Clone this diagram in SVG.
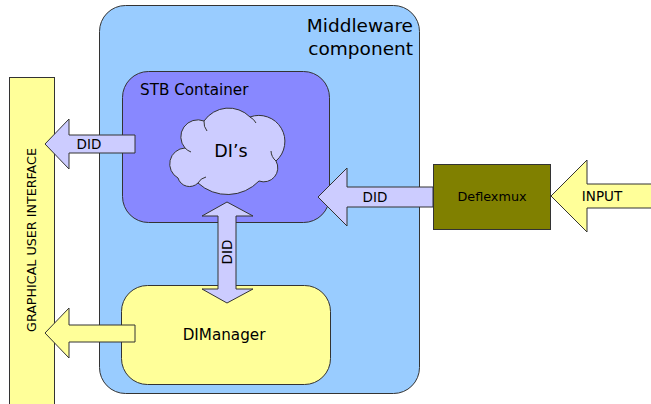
<svg xmlns="http://www.w3.org/2000/svg" width="651" height="404" viewBox="0 0 651 404">
  <style>
    .box { stroke: #333333; stroke-width: 1; }
    .lbl { font-family: "DejaVu Sans", Verdana, sans-serif; fill: #000000; }
    .did { fill: #CCCCFF; stroke: #333333; stroke-width: 1; stroke-linejoin: miter; }
    .yel { fill: #FFFF99; stroke: #333333; stroke-width: 1; }
  </style>
  <rect width="651" height="404" fill="#FFFFFF"/>

  <g id="middleware">
    <rect class="box" x="99.5" y="5.5" width="320" height="388" rx="26" ry="26" fill="#99CCFF"/>
    <text class="lbl" x="413" y="32" font-size="18.5" text-anchor="end">Middleware</text>
    <text class="lbl" x="413" y="55" font-size="18.5" text-anchor="end">component</text>
  </g>

  <g id="gui">
    <rect class="box" x="9.5" y="77.5" width="45" height="340" fill="#FFFF99"/>
    <text class="lbl" font-size="12.7" text-anchor="middle" transform="translate(36,240) rotate(-90)">GRAPHICAL USER INTERFACE</text>
  </g>

  <g id="stb-container">
    <rect class="box" x="122.5" y="71.5" width="207" height="151" rx="26" ry="26" fill="#8888FF"/>
    <text class="lbl" x="140" y="95" font-size="15.2">STB Container</text>
  </g>

  <g id="dimanager">
    <rect class="box" x="121.5" y="285.5" width="209" height="99" rx="26" ry="26" fill="#FFFF99"/>
    <text class="lbl" x="224" y="340" font-size="15.2" text-anchor="middle">DIManager</text>
  </g>

  <g id="dis">
    <path class="did" d="M178,178 A16,16 0 0 1 185,148 A17,17 0 0 1 204,121 A30,30 0 0 1 250,117 A26,26 0 0 1 276,161 A14,14 0 0 1 259,181 A43.5,43.5 0 0 1 198,183 A12,12 0 0 1 178,178 Z"/>
    <path d="M185,148 A16,16 0 0 0 191,152 M204,121 A14,14 0 0 0 207,131 M250,117 A14,14 0 0 1 256,123 M276,161 A14,14 0 0 1 271,151 M198,183 A12,12 0 0 1 206,177" fill="none" stroke="#333333" stroke-width="1"/>
    <text class="lbl" x="231" y="157" font-size="17.5" text-anchor="middle">DI’s</text>
  </g>

  <g id="deflexmux">
    <rect class="box" x="433.5" y="164.5" width="117" height="65" fill="#808000"/>
    <text class="lbl" x="492" y="201" font-size="12.8" text-anchor="middle">Deflexmux</text>
  </g>

  <g id="connectors">
    <g id="did-to-gui">
      <polygon class="did" points="135,135 69,135 69,119 45,144 69,169 69,153 135,153"/>
      <text class="lbl" x="89" y="149" font-size="13.5" text-anchor="middle">DID</text>
    </g>
    <g id="manager-to-gui">
      <polygon class="yel" points="135,325 69,325 69,308 45,333 69,358 69,342 135,342"/>
    </g>
    <g id="did-from-deflexmux">
      <polygon class="did" points="433,187 347,187 347,168 318,197 347,226 347,207 433,207"/>
      <text class="lbl" x="375" y="202" font-size="13.5" text-anchor="middle">DID</text>
    </g>
    <g id="input">
      <polygon class="yel" points="660,184 587,184 587,160 551,196 587,232 587,208 660,208"/>
      <text class="lbl" x="602" y="201" font-size="13.5" text-anchor="middle">INPUT</text>
    </g>
    <g id="did-exchange">
      <polygon class="did" points="227,202 253,216 236,216 236,289 253,289 227,303 202,289 218,289 218,216 202,216"/>
      <text class="lbl" font-size="13.5" text-anchor="middle" transform="translate(232,252) rotate(-90)">DID</text>
    </g>
  </g>
</svg>
